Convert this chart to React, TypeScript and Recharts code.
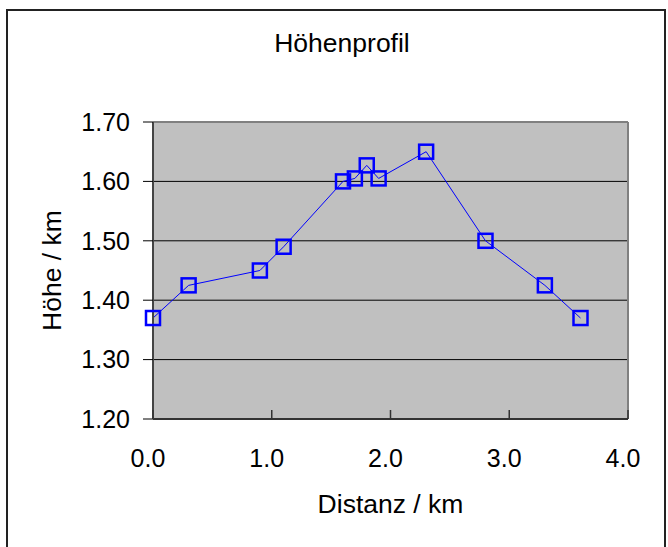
import React from "react";
import { LineChart, Line, XAxis, YAxis, CartesianGrid, ReferenceLine } from "recharts";

const distances = [0.0, 0.3, 0.9, 1.1, 1.6, 1.7, 1.8, 1.9, 2.3, 2.8, 3.3, 3.6];
const heights = [1.37, 1.425, 1.45, 1.49, 1.6, 1.605, 1.627, 1.605, 1.65, 1.5, 1.425, 1.37];
const xTicks = [0, 1, 2, 3, 4];
const yTicks = [1.2, 1.3, 1.4, 1.5, 1.6, 1.7];
const titleText = "Höhenprofil";
const xLabel = "Distanz / km";
const yLabel = "Höhe / km";

const data = distances.map((d, i) => ({ d, h: heights[i] }));

const FONT = '"Liberation Sans", Arial, sans-serif';

const XTick = (props: any) => {
  const { x, y, payload } = props;
  return (
    <g>
      <line x1={x} x2={x} y1={y} y2={y - 9} stroke="#333" strokeWidth={1.5} />
      <text x={x - 5} y={y + 48} textAnchor="middle" fontSize={25} fontFamily={FONT} fill="#000">
        {Number(payload.value).toFixed(1)}
      </text>
    </g>
  );
};

const Square = (props: any) => {
  const { cx, cy, index } = props;
  if (cx == null || cy == null) return <g key={index} />;
  return (
    <rect key={index} x={cx - 7} y={cy - 7} width={14} height={14} fill="none" stroke="#0000FF" strokeWidth={2.5} />
  );
};

export default function App() {
  return (
    <div style={{ position: "fixed", left: 0, top: 0, width: 668, height: 547, overflow: "hidden", background: "#fff" }}>
      <div
        style={{
          position: "absolute",
          left: 6,
          top: 9,
          width: 660,
          height: 570,
          border: "2px solid #222",
          boxSizing: "border-box",
        }}
      />
      <svg style={{ position: "absolute", left: 0, top: 0 }} width={668} height={547}>
        <text x={342} y={52} textAnchor="middle" fontSize={26.5} fontFamily={FONT} fill="#000">
          {titleText}
        </text>
      </svg>
      <div style={{ position: "absolute", left: 0, top: 0 }}>
        <LineChart width={668} height={547} data={data} margin={{ top: 122, right: 40, left: 0, bottom: 0 }}>
          <CartesianGrid horizontal={true} vertical={false} fill="#C0C0C0" stroke="#000" strokeWidth={1} />
          <ReferenceLine y={1.7} stroke="#808080" strokeWidth={2} ifOverflow="visible" />
          <ReferenceLine x={4} stroke="#808080" strokeWidth={2} ifOverflow="visible" />
          <XAxis
            dataKey="d"
            type="number"
            domain={[0, 4]}
            ticks={xTicks}
            height={128}
            axisLine={{ stroke: "#333", strokeWidth: 2 }}
            tickLine={false}
            tickSize={0}
            tickMargin={0}
            tick={<XTick />}
            interval={0}
            label={{
              content: (p: any) => {
                const vb = p.viewBox;
                return (
                  <text x={vb.x + vb.width / 2} y={vb.y + 94} textAnchor="middle" fontSize={26.5} fontFamily={FONT} fill="#000">
                    {xLabel}
                  </text>
                );
              },
            }}
          />
          <YAxis
            type="number"
            domain={[1.2, 1.7]}
            ticks={yTicks}
            width={153}
            interval={0}
            axisLine={{ stroke: "#444", strokeWidth: 2 }}
            tickLine={{ stroke: "#000", strokeWidth: 1 }}
            tickSize={10}
            tickMargin={13}
            tickFormatter={(v: number) => v.toFixed(2)}
            tick={{ fontSize: 25, fontFamily: FONT, fill: "#000" }}
            label={{
              content: (p: any) => {
                const vb = p.viewBox;
                const cy = vb.y + vb.height / 2;
                return (
                  <text
                    x={61}
                    y={cy}
                    transform={`rotate(-90, 61, ${cy})`}
                    textAnchor="middle"
                    fontSize={26.5}
                    fontFamily={FONT}
                    fill="#000"
                  >
                    {yLabel}
                  </text>
                );
              },
            }}
          />
          <Line
            type="linear"
            dataKey="h"
            stroke="#0000FF"
            strokeWidth={1}
            dot={(p: any) => <Square {...p} key={p.index} />}
            activeDot={false}
            isAnimationActive={false}
          />
        </LineChart>
      </div>
    </div>
  );
}
